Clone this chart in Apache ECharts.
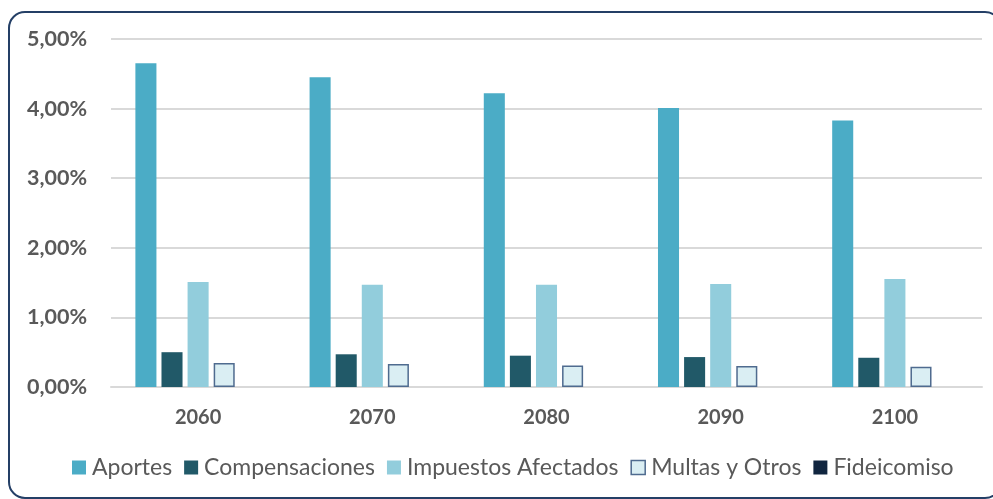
<!DOCTYPE html>
<html><head><meta charset="utf-8">
<script src="https://cdn.jsdelivr.net/npm/echarts@6/dist/echarts.min.js"></script>
<style>html,body{margin:0;padding:0;background:#fff}#c{width:993px;height:499px}</style>
</head><body><div id="c"></div>
<script>
const categories = ['2060','2070','2080','2090','2100'];
const seriesNames = ['Aportes','Compensaciones','Impuestos Afectados','Multas y Otros','Fideicomiso'];
const aportes = [4.65, 4.45, 4.22, 4.01, 3.83];
const compensaciones = [0.50, 0.47, 0.45, 0.43, 0.42];
const impuestos = [1.51, 1.47, 1.47, 1.48, 1.55];
const multas = [0.345, 0.33, 0.31, 0.30, 0.29];
const fideicomiso = [0, 0, 0, 0, 0];
const yTicks = [0, 1, 2, 3, 4, 5];

const colors = ['#4BACC6','#215968','#92CDDC','#DAEEF3','#10253F'];
const values = [aportes, compensaciones, impuestos, multas, fideicomiso];
const font = 'Lato, "Open Sans", sans-serif';

const chart = echarts.init(document.getElementById('c'));
chart.setOption({
  animation: false,
  graphic: [{
    type: 'rect', silent: true, z: 100,
    shape: {x: 9, y: 12, width: 992, height: 486, r: 16},
    style: {fill: 'none', stroke: '#243F66', lineWidth: 2}
  }],
  grid: {left: 111, right: 11, top: 39, bottom: 112, containLabel: false},
  legend: {
    bottom: 15, left: 67,
    itemWidth: 14, itemHeight: 14, itemGap: 12,
    icon: 'rect',
    textStyle: {fontFamily: font, fontSize: 23, color: '#595959', padding: [0,0,0,1]},
    data: seriesNames.map((n, i) => i === 3 ? {name: n, itemStyle: {borderColor: '#4F6B8F', borderWidth: 1.5}} : {name: n})
  },
  xAxis: {
    type: 'category', data: categories,
    axisLine: {lineStyle: {color: '#D9D9D9', width: 2}},
    axisTick: {show: false},
    axisLabel: {margin: 21, fontFamily: font, fontSize: 20, fontWeight: 'bold', color: '#595959'}
  },
  yAxis: {
    type: 'value', min: yTicks[0], max: yTicks[yTicks.length-1], interval: 1,
    axisLine: {show: false}, axisTick: {show: false},
    splitLine: {lineStyle: {color: '#D9D9D9', width: 2}},
    axisLabel: {margin: 24, fontFamily: font, fontSize: 21.5, fontWeight: 'bold', color: '#595959',
      formatter: v => v.toFixed(2).replace('.', ',') + '%'}
  },
  series: seriesNames.map((n, i) => ({
    name: n, type: 'bar', data: values[i],
    barGap: '24%', barCategoryGap: '28%',
    itemStyle: i === 3 ? {color: colors[i], borderColor: '#4F6B8F', borderWidth: 1.5} : {color: colors[i]}
  }))
});
</script></body></html>
